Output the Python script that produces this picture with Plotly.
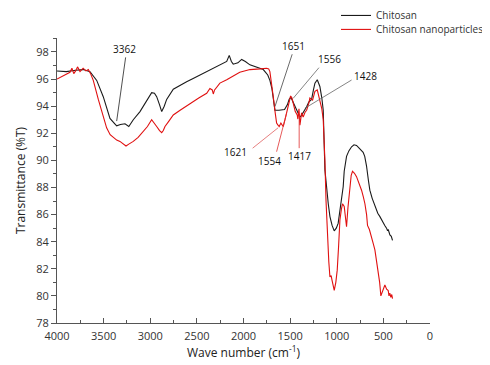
import plotly.graph_objects as go

chitosan_wn = [4000, 3900, 3800, 3718, 3646, 3574, 3504, 3432, 3380, 3360, 3320, 3271, 3230, 3182, 3110, 3039,
               2985, 2955, 2931, 2900, 2877, 2850, 2824, 2753, 2680, 2610, 2540, 2467, 2400, 2324, 2270, 2217,
               2180, 2153, 2130, 2110, 2060, 2020, 1980, 1931, 1895, 1859, 1788, 1740, 1717, 1695, 1681, 1663,
               1620, 1590, 1560, 1530, 1510, 1492, 1470, 1449, 1420, 1395, 1380, 1360, 1323, 1300, 1270, 1250,
               1234, 1209, 1181, 1160, 1145, 1127, 1110, 1091, 1073, 1050, 1027, 1005, 985, 960, 931, 920,
               895, 870, 841, 815, 788, 760, 717, 700, 681, 660, 645, 620, 591, 560, 537, 520, 502, 485,
               466, 455, 448, 430, 415, 402]
chitosan_T = [96.6, 96.55, 96.65, 96.7, 96.55, 95.9, 94.7, 93.1, 92.7, 92.55, 92.65, 92.7, 92.5, 93.0, 93.6, 94.4,
              95.0, 94.95, 94.7, 94.1, 93.6, 94.0, 94.5, 95.25, 95.55, 95.8, 96.05, 96.3, 96.5, 96.8, 96.95, 97.15,
              97.3, 97.75, 97.3, 97.1, 97.2, 97.45, 97.3, 97.05, 96.95, 96.9, 96.7, 96.3, 95.9, 95.3, 94.7, 93.7,
              93.7, 93.7, 93.75, 94.1, 94.5, 94.65, 94.3, 93.95, 93.5, 93.2, 93.3, 93.5, 93.95, 94.3, 94.5, 95.2,
              95.7, 95.95, 95.45, 94.6, 93.7, 89.3, 88.0, 86.8, 85.85, 85.2, 84.8, 85.0, 85.35, 86.5, 88.05, 89.2,
              90.3, 90.7, 91.0, 91.15, 91.1, 90.9, 90.6, 90.3, 89.6, 88.5, 87.8, 87.2, 86.6, 86.1, 85.85, 85.6, 85.35, 85.2,
              85.0, 84.8, 84.9, 84.5, 84.4, 84.1]

nano_wn = [4000, 3950, 3900, 3861, 3840, 3820, 3800, 3780, 3753, 3720, 3690, 3664, 3640, 3611, 3557, 3504,
           3468, 3430, 3396, 3360, 3325, 3290, 3260, 3230, 3182, 3130, 3075, 3030, 2985, 2960, 2931, 2900,
           2877, 2860, 2842, 2800, 2753, 2680, 2574, 2480, 2395, 2360, 2335, 2324, 2310, 2253, 2180, 2110,
           2040, 1931, 1896, 1820, 1752, 1730, 1717, 1700, 1681, 1660, 1645, 1630, 1617, 1599, 1585, 1574,
           1555, 1538, 1515, 1495, 1480, 1467, 1445, 1424, 1417, 1405, 1395, 1377, 1360, 1340, 1323, 1300,
           1288, 1259, 1234, 1209, 1181, 1160, 1145, 1135, 1127, 1115, 1102, 1085, 1073, 1060, 1052, 1040,
           1027, 1010, 995, 980, 966, 950, 938, 920, 905, 895, 880, 859, 845, 831, 810, 788, 760, 734, 715,
           698, 680, 670, 650, 627, 610, 591, 575, 556, 540, 527, 510, 495, 484, 465, 448, 440, 431, 420, 410, 402]
nano_T = [96.0, 96.2, 96.35, 96.5, 96.8, 96.4, 96.6, 96.9, 96.55, 96.8, 96.6, 96.7, 96.4, 95.9, 94.5, 93.2,
          92.4, 91.9, 91.7, 91.5, 91.4, 91.2, 91.06, 91.2, 91.4, 91.7, 92.1, 92.5, 93.0, 92.8, 92.5, 92.2,
          92.05, 92.2, 92.5, 92.9, 93.35, 93.7, 94.2, 94.6, 94.95, 95.3, 95.2, 94.9, 95.2, 95.7, 95.95, 96.2,
          96.5, 96.7, 96.7, 96.75, 96.8, 96.75, 96.55, 95.8, 94.7, 93.5, 92.75, 92.6, 92.5, 92.75, 92.6, 92.5,
          93.0, 93.5, 94.3, 94.75, 94.6, 94.2, 93.6, 93.35, 93.05, 93.8, 92.6, 93.5, 93.2, 93.55, 93.7, 94.2,
          94.6, 94.45, 95.1, 95.2, 94.5, 93.8, 93.0, 91.5, 90.0, 87.0, 84.4, 82.5, 81.4, 81.5, 81.2, 80.8,
          80.4, 81.0, 81.9, 83.7, 85.6, 86.4, 86.8, 86.6, 85.6, 85.1, 86.5, 88.05, 88.9, 89.2, 89.05, 88.8, 88.3, 87.8, 87.3,
          86.8, 86.0, 85.2, 84.9, 84.4, 83.9, 83.4, 82.7, 81.9, 81.0, 80.0, 80.3, 80.7, 80.8, 80.5, 80.4, 80.0, 80.2, 79.9, 80.1, 79.8]

# peak labels: text, label position (wn, T), pointer from / to (wn, T)
peak_labels = ["3362", "1651", "1556", "1428", "1621", "1554", "1417"]
label_wn = [3271, 1467, 1081, 688, 2081, 1717, 1395]
label_T = [98.22, 98.46, 97.46, 96.23, 90.62, 89.98, 90.32]
line_start_wn = [3264, 1478, 1191, 841, 1902, 1645, 1403]
line_start_T = [97.6, 97.83, 96.84, 95.93, 90.9, 90.64, 90.9]
tip_wn = [3360, 1663, 1467, 1341, 1628, 1538, 1403]
tip_T = [92.9, 93.96, 94.58, 93.85, 92.41, 93.48, 93.35]
pointer_colors = ["#222222", "#444444", "#666666", "#666666", "#e06060", "#e03030", "#e03030"]

fig = go.Figure()
fig.add_trace(go.Scatter(x=chitosan_wn, y=chitosan_T, mode="lines", name="Chitosan",
                         line=dict(color="#1a1a1a", width=1.1), legend="legend"))
fig.add_trace(go.Scatter(x=nano_wn, y=nano_T, mode="lines", name="Chitosan nanoparticles",
                         line=dict(color="#e01010", width=1.1), legend="legend2"))

for i in range(len(peak_labels)):
    fig.add_shape(type="line", xref="x", yref="y",
                  x0=line_start_wn[i], y0=line_start_T[i], x1=tip_wn[i], y1=tip_T[i],
                  line=dict(color=pointer_colors[i], width=0.8))
    fig.add_annotation(x=label_wn[i], y=label_T[i], text=peak_labels[i], showarrow=False,
                       font=dict(family="Open Sans", size=10, color="#111111"))

legend_style = dict(xanchor="left", yanchor="top", bgcolor="rgba(0,0,0,0)",
                    font=dict(family="Open Sans", size=10, color="#333333"), itemwidth=30)

fig.update_layout(
    width=482, height=357,
    margin=dict(l=49, r=60, t=30, b=42, autoexpand=False),
    paper_bgcolor="white", plot_bgcolor="white",
    font=dict(family="Open Sans", size=11, color="#333333"),
    showlegend=True,
    legend=dict(x=0.748, y=1.130, **legend_style),
    legend2=dict(x=0.748, y=1.081, **legend_style),
    xaxis=dict(range=[4000, 0], tickvals=[4000, 3500, 3000, 2500, 2000, 1500, 1000, 500, 0],
               automargin=False,
               showgrid=False, zeroline=False, showline=True, linecolor="#555555", linewidth=1,
               ticks="inside", ticklen=5, tickcolor="#555555", ticklabelstandoff=3,
               minor=dict(dtick=250, ticks="inside", ticklen=3, tickcolor="#555555"),
               title=dict(text="Wave number (cm<sup>-1</sup>)", font=dict(size=12, color="#222222"), standoff=3)),
    yaxis=dict(range=[78, 99.03], tickvals=[78, 80, 82, 84, 86, 88, 90, 92, 94, 96, 98],
               automargin=False,
               showgrid=False, zeroline=False, showline=True, linecolor="#555555", linewidth=1,
               ticks="outside", ticklen=5, tickcolor="#555555",
               minor=dict(dtick=1, ticks="outside", ticklen=3, tickcolor="#555555"),
               title=dict(text="Transmittance (%T)", font=dict(size=12, color="#222222"), standoff=8)),
)

fig.write_html("out.html")
